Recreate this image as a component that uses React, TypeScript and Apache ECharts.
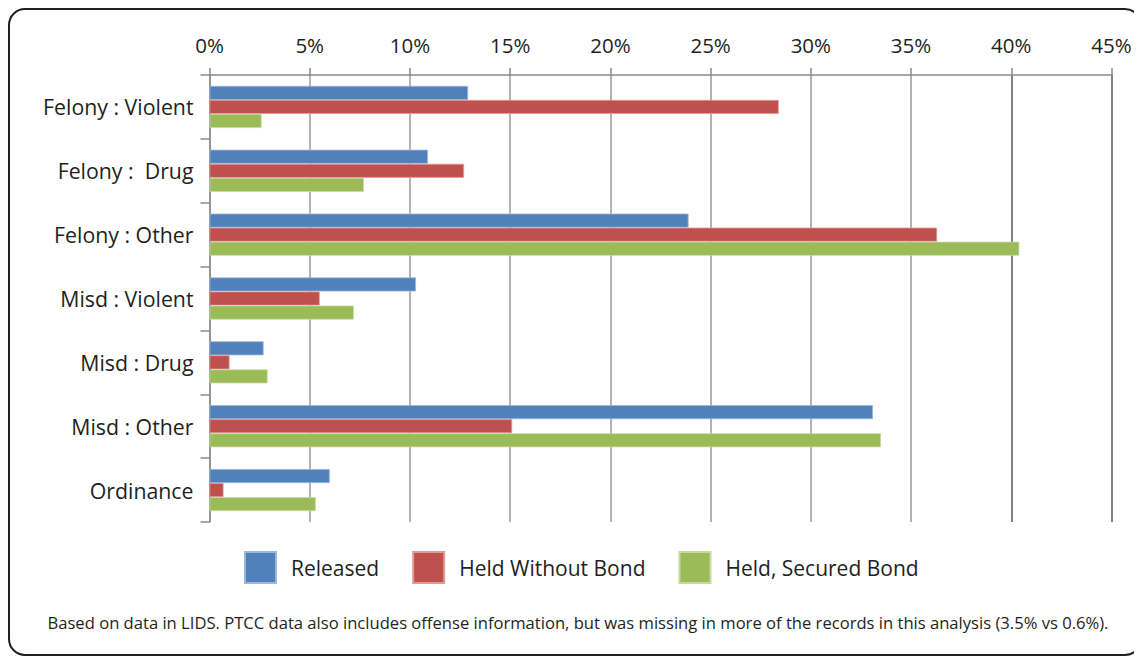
import React, { useEffect, useRef } from "react";
import * as echarts from "echarts";

// Offense categories (top to bottom)
const categories = [
  "Felony : Violent",
  "Felony :  Drug",
  "Felony : Other",
  "Misd : Violent",
  "Misd : Drug",
  "Misd : Other",
  "Ordinance",
];

// Share of each outcome group by offense type (%)
const released = [12.9, 10.9, 23.9, 10.3, 2.7, 33.1, 6.0];
const heldWithoutBond = [28.4, 12.7, 36.3, 5.5, 1.0, 15.1, 0.7];
const heldSecuredBond = [2.6, 7.7, 40.4, 7.2, 2.9, 33.5, 5.3];

const seriesNames = ["Released", "Held Without Bond", "Held, Secured Bond"];
const seriesColors = ["#4f81bd", "#c0504d", "#9bbb59"];
const seriesBorders = ["#9db8dc", "#e29a98", "#c6da9f"];

const footnote =
  "Based on data in LIDS. PTCC data also includes offense information, but was missing in more of the records in this analysis (3.5% vs 0.6%).";

const FONT = "'Open Sans', 'Noto Sans', sans-serif";
const W = 1134;
const H = 648;

export default function App() {
  const ref = useRef<HTMLDivElement>(null);

  useEffect(() => {
    if (!ref.current) return;
    const chart = echarts.init(ref.current, undefined, { renderer: "svg" });
    const values = [released, heldWithoutBond, heldSecuredBond];

    chart.setOption({
      animation: false,
      backgroundColor: "#ffffff",
      textStyle: { fontFamily: FONT },
      grid: { left: 201.5, right: 30.5, top: 67, bottom: 134, containLabel: false },
      legend: {
        left: 231,
        top: 538,
        itemWidth: 31,
        itemHeight: 31,
        itemGap: 33,
        icon: "rect",
        textStyle: {
          fontFamily: FONT,
          fontSize: 21,
          color: "#231f20",
          padding: [0, 0, 0, 10],
        },
        data: seriesNames,
      },
      xAxis: {
        type: "value",
        position: "top",
        min: 0,
        max: 45,
        interval: 5,
        axisLine: { show: true, lineStyle: { color: "#8a8a8a", width: 1.5 } },
        axisTick: { show: true, length: 7, lineStyle: { color: "#8a8a8a", width: 1.5 } },
        axisLabel: {
          formatter: "{value}%",
          fontFamily: FONT,
          fontSize: 20.5,
          color: "#231f20",
          margin: 20,
        },
        splitLine: {
          show: true,
          lineStyle: {
            color: [
              "#9a9a9a", "#9a9a9a", "#9a9a9a", "#9a9a9a", "#9a9a9a",
              "#9a9a9a", "#9a9a9a", "#9a9a9a", "#5a5a5a", "#5a5a5a",
            ],
            width: 1.5,
          },
        },
      },
      yAxis: {
        type: "category",
        data: categories,
        inverse: true,
        axisLine: { show: true, lineStyle: { color: "#8a8a8a", width: 1.5 } },
        axisTick: { show: true, length: 9, lineStyle: { color: "#8a8a8a", width: 1.5 } },
        axisLabel: {
          fontFamily: FONT,
          fontSize: 21.3,
          color: "#231f20",
          margin: 16,
        },
        splitLine: { show: false },
      },
      series: seriesNames.map((name, i) => ({
        name,
        type: "bar",
        data: values[i],
        barGap: "0%",
        barCategoryGap: "34%",
        itemStyle: {
          color: seriesColors[i],
          borderColor: seriesBorders[i],
          borderWidth: 0.8,
        },
      })),
      graphic: [
        {
          type: "rect",
          shape: { x: 1, y: 1, width: W - 2, height: H - 2, r: 16 },
          style: { fill: "none", stroke: "#231f20", lineWidth: 2 },
          silent: true,
        },
        {
          type: "text",
          x: 570,
          y: 614,
          style: {
            text: footnote,
            fontFamily: FONT,
            fontSize: 16.6,
            fill: "#231f20",
            align: "center",
            verticalAlign: "middle",
          },
          silent: true,
        },
      ],
    });

    return () => chart.dispose();
  }, []);

  return <div ref={ref} style={{ width: W, height: H }} />;
}
